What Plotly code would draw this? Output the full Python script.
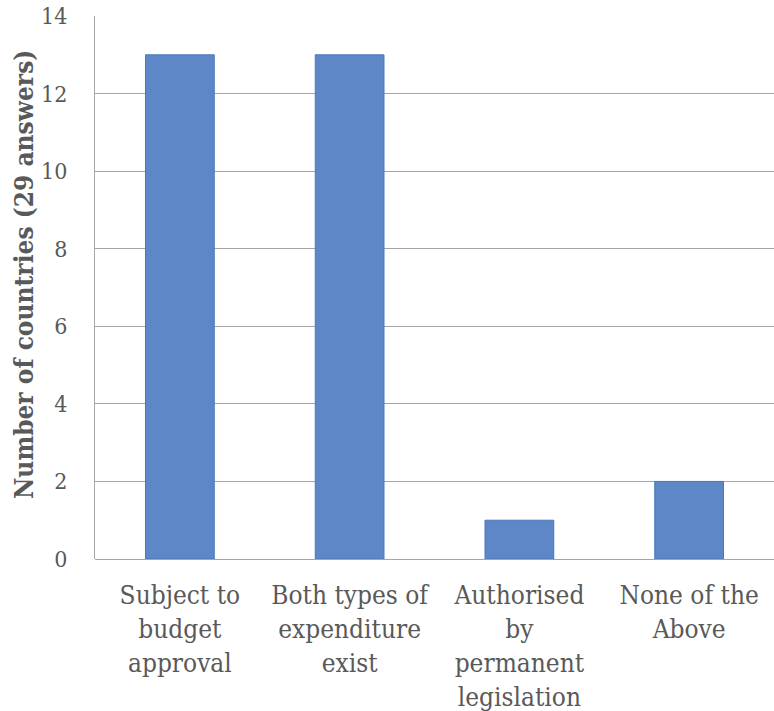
import plotly.graph_objects as go

categories = ["Subject to<br>budget<br>approval",
              "Both types of<br>expenditure<br>exist",
              "Authorised<br>by<br>permanent<br>legislation",
              "None of the<br>Above"]
values = [13, 13, 1, 2]
y_ticks = [0, 2, 4, 6, 8, 10, 12, 14]
y_title = "Number of countries (29 answers)"

font_family = "DejaVu Serif Condensed, Liberation Serif, serif"
grey = "#595959"

fig = go.Figure(go.Bar(
    x=categories, y=values,
    width=0.405,
    marker=dict(color="#5d87c7", line=dict(color="#4a78b8", width=1)),
))

fig.update_layout(
    width=774, height=711,
    margin=dict(l=95, r=0, t=16, b=152),
    plot_bgcolor="white", paper_bgcolor="white",
    showlegend=False,
    font=dict(family=font_family, color=grey, size=24),
    annotations=[dict(
        text="<b>" + y_title + "</b>", textangle=-90,
        xref="paper", yref="paper", x=0, y=0.523,
        xanchor="center", yanchor="middle", xshift=-71,
        showarrow=False,
        font=dict(size=26, color=grey, family=font_family),
    )],
)
fig.update_xaxes(
    automargin=False,
    showgrid=False, showline=False,
    ticks="outside", ticklen=13, tickcolor="rgba(0,0,0,0)",
    ticklabeloverflow="allow",
    tickfont=dict(size=26, color=grey, family=font_family),
    tickangle=0,
)
fig.update_yaxes(
    automargin=False,
    range=[0, 14], tickvals=y_ticks,
    showgrid=True, gridcolor="#a6a6a6", gridwidth=1,
    showline=True, linecolor="#a6a6a6", linewidth=1,
    zeroline=True, zerolinecolor="#a6a6a6", zerolinewidth=1,
    ticks="outside", ticklen=22, tickcolor="rgba(0,0,0,0)",
    ticklabeloverflow="allow",
    tickfont=dict(size=23, color=grey, family=font_family),
)

fig.write_html("out.html",
               config={"displayModeBar": False},
               post_script="document.body.style.margin='0';document.body.style.overflow='hidden';")
